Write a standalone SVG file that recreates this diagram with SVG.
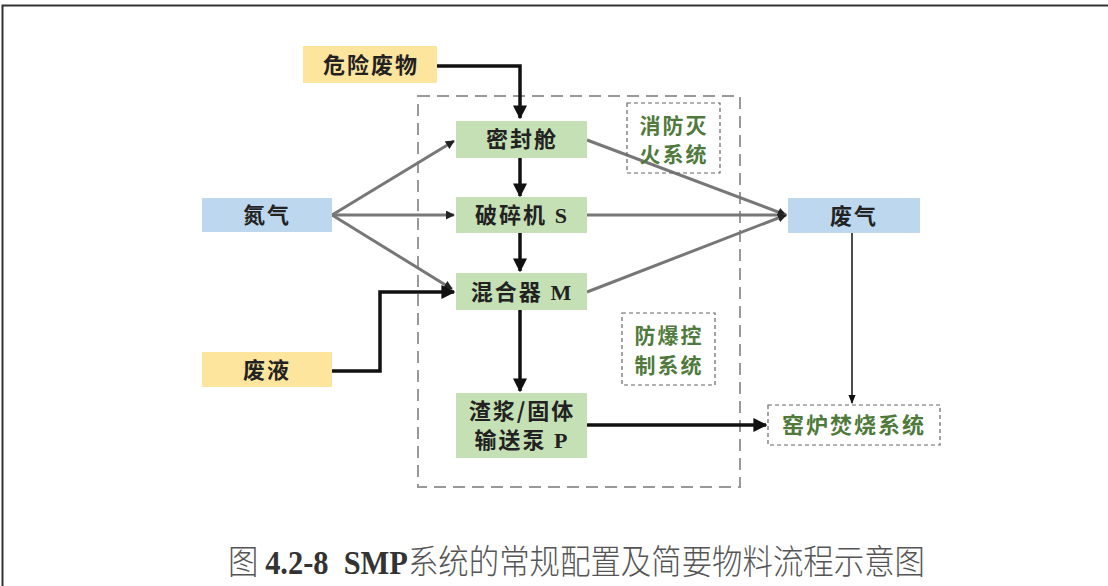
<svg xmlns="http://www.w3.org/2000/svg" width="1108" height="586" viewBox="0 0 1108 586">
<style>
.t{font-family:"Noto Sans CJK SC","Noto Sans",sans-serif;font-weight:700;font-size:22px;fill:#222;text-anchor:middle;letter-spacing:2px}
.s{font-size:21px}
.g{fill:#4f7a3c}
.lat{font-family:"Liberation Serif",serif;font-weight:700}
.gr{fill:#c5e0b4}
.bl{fill:#bdd7ee}
.ye{fill:#fde59e}
.sub{fill:none;stroke:#666;stroke-width:1.2;stroke-dasharray:4 3}
.gl{stroke:#777;stroke-width:3;fill:none}
.bk{stroke:#111;stroke-width:3.5;fill:none}
</style>
<defs>
<marker id="ah" viewBox="0 0 10 10" refX="9" refY="5" markerWidth="4" markerHeight="4" orient="auto"><path d="M0,0L10,5L0,10z" fill="#111"/></marker>
<marker id="ag" viewBox="0 0 10 10" refX="9" refY="5" markerWidth="3" markerHeight="3" orient="auto"><path d="M0,0L10,5L0,10z" fill="#222"/></marker>
<marker id="at" viewBox="0 0 10 10" refX="9" refY="5" markerWidth="6" markerHeight="6" orient="auto"><path d="M0,1L10,5L0,9z" fill="#111"/></marker>
</defs>
<rect width="1108" height="586" fill="#fff"/>
<path d="M2.5,586V5.5H1108" fill="none" stroke="#333" stroke-width="2"/>
<rect id="frame" x="418" y="96" width="322" height="391" fill="none" stroke="#999" stroke-width="2" stroke-dasharray="12 7"/>
<g id="connectors">
<path class="bk" d="M437,66H520V118" marker-end="url(#ah)"/>
<path class="bk" d="M520,158V196" marker-end="url(#ah)"/>
<path class="bk" d="M520,233V271" marker-end="url(#ah)"/>
<path class="bk" d="M520,310V391" marker-end="url(#ah)"/>
<path class="gl" d="M332,215L454,141" marker-end="url(#ag)"/>
<path class="gl" d="M332,215H454" marker-end="url(#ag)"/>
<path class="gl" d="M332,215L452,289" marker-end="url(#ag)"/>
<path class="bk" d="M332,371H380V292H454" marker-end="url(#ah)"/>
<path class="gl" d="M587,140L786,215" marker-end="url(#ag)"/>
<path class="gl" d="M587,215H786" marker-end="url(#ag)"/>
<path class="gl" d="M587,292L786,215" marker-end="url(#ag)"/>
<path d="M852,233V403" stroke="#111" stroke-width="1.5" fill="none" marker-end="url(#at)"/>
<path class="bk" d="M587,425H766" marker-end="url(#ah)"/>
</g>
<g id="n-hazard"><rect class="ye" x="303" y="46" width="134" height="37"/><text class="t" x="371" y="73" font-size="23">危险废物</text></g>
<g id="n-seal"><rect class="gr" x="456" y="121" width="131" height="37"/><text class="t" x="522" y="147">密封舱</text></g>
<g id="n-crusher"><rect class="gr" x="456" y="197" width="131" height="36"/><text class="t" x="522" y="223">破碎机<tspan class="lat"> S</tspan></text></g>
<g id="n-mixer"><rect class="gr" x="456" y="273" width="131" height="37"/><text class="t" x="522" y="300">混合器<tspan class="lat"> M</tspan></text></g>
<g id="n-pump"><rect class="gr" x="456" y="393" width="131" height="65"/><text class="t" x="522" y="419">渣浆/固体</text><text class="t" x="522" y="448">输送泵<tspan class="lat"> P</tspan></text></g>
<g id="n-n2"><rect class="bl" x="202" y="198" width="130" height="34"/><text class="t" x="267" y="223">氮气</text></g>
<g id="n-liquid"><rect class="ye" x="202" y="352" width="130" height="35"/><text class="t" x="267" y="378">废液</text></g>
<g id="n-gas"><rect class="bl" x="788" y="198" width="132" height="35"/><text class="t" x="854" y="224">废气</text></g>
<g id="n-fire"><rect class="sub" x="627" y="103" width="93" height="70"/><text class="t g s" x="674" y="133">消防灭</text><text class="t g s" x="674" y="162">火系统</text></g>
<g id="n-explosion"><rect class="sub" x="622" y="313" width="93" height="72"/><text class="t g s" x="669" y="343">防爆控</text><text class="t g s" x="669" y="373">制系统</text></g>
<g id="n-kiln"><rect class="sub" x="768" y="405" width="172" height="40"/><text class="t g" x="854" y="433" font-size="23">窑炉焚烧系统</text></g>
<text x="228" y="574" font-family="Noto Sans CJK SC,sans-serif" font-size="34" fill="#555" font-weight="300" textLength="697" lengthAdjust="spacingAndGlyphs" xml:space="preserve">图 <tspan font-family="Liberation Serif,serif" font-weight="700" fill="#333">4.2-8  SMP</tspan>系统的常规配置及简要物料流程示意图</text>
</svg>
